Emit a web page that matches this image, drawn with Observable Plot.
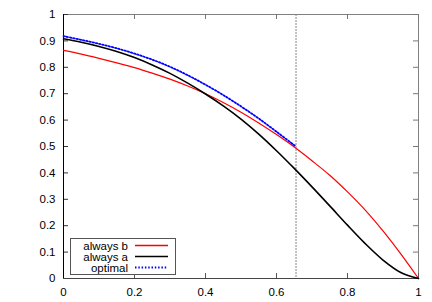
<!DOCTYPE html>
<html>
<head>
<meta charset="utf-8">
<script src="https://cdn.jsdelivr.net/npm/d3@7"></script>
<script src="https://cdn.jsdelivr.net/npm/@observablehq/plot@0.6"></script>
<style>
  html, body { margin: 0; padding: 0; background: #fff; }
  #chart svg { font-family: "Liberation Sans", Arial, sans-serif; }
</style>
</head>
<body>
<div id="chart"></div>
<script>
// ---- data ----
const xs = [0, 0.05, 0.1, 0.15, 0.2, 0.25, 0.3, 0.35, 0.4, 0.45, 0.5, 0.55, 0.6, 0.65, 0.7, 0.75, 0.8, 0.85, 0.9, 0.95, 1];
const alwaysB = [0.864, 0.850, 0.834, 0.817, 0.799, 0.778, 0.755, 0.729, 0.700, 0.667, 0.630, 0.589, 0.545, 0.498, 0.446, 0.391, 0.328, 0.259, 0.180, 0.093, 0];
const alwaysA = [0.908, 0.895, 0.879, 0.860, 0.837, 0.809, 0.777, 0.740, 0.699, 0.654, 0.604, 0.547, 0.484, 0.417, 0.347, 0.275, 0.202, 0.132, 0.070, 0.023, 0];
const optX = [0, 0.05, 0.1, 0.15, 0.2, 0.25, 0.3, 0.35, 0.4, 0.45, 0.5, 0.55, 0.6, 0.65, 0.655];
const optimal = [0.918, 0.904, 0.889, 0.872, 0.852, 0.829, 0.802, 0.770, 0.734, 0.695, 0.652, 0.606, 0.556, 0.505, 0.500];
const threshold = [0.655];
const xTicks = [0, 0.2, 0.4, 0.6, 0.8, 1];
const yTicks = [0, 0.1, 0.2, 0.3, 0.4, 0.5, 0.6, 0.7, 0.8, 0.9, 1];
const legendItems = [
  {label: "always b", color: "#ff0000", dash: null, width: 1.3},
  {label: "always a", color: "#000000", dash: null, width: 1.6},
  {label: "optimal", color: "#0000ff", dash: "1.5,1.8", width: 1.8}
];

const rowsB = xs.map((x, i) => ({x, y: alwaysB[i]}));
const rowsA = xs.map((x, i) => ({x, y: alwaysA[i]}));
const rowsO = optX.map((x, i) => ({x, y: optimal[i]}));

const W = 432, H = 302;
const mL = 63, mR = 14, mT = 14, mB = 24;
const innerH = H - mT - mB, innerW = W - mL - mR;
const T = 5; // tick length px

const chart = Plot.plot({
  width: W, height: H,
  marginLeft: mL, marginRight: mR, marginTop: mT, marginBottom: mB,
  style: {fontSize: "11.5px", fontFamily: "'Liberation Sans', Arial, sans-serif", color: "#000", background: "#fff"},
  x: {domain: [0, 1]},
  y: {domain: [0, 1]},
  marks: [
    Plot.frame({stroke: "#808080"}),
    // inward ticks
    Plot.tickX(xTicks, {x: d => d, insetTop: innerH - T, stroke: "#555"}),
    Plot.tickX(xTicks, {x: d => d, insetBottom: innerH - T, stroke: "#777"}),
    Plot.tickY(yTicks, {y: d => d, insetRight: innerW - T, stroke: "#333"}),
    Plot.tickY(yTicks, {y: d => d, insetLeft: innerW - T, stroke: "#777"}),
    Plot.ruleX([0], {stroke: "#000"}),
    Plot.ruleY([0], {stroke: "#444"}),
    Plot.axisX({ticks: xTicks, tickSize: 0, tickPadding: 9, tickFormat: d => String(d), label: null}),
    Plot.axisY({ticks: yTicks, tickSize: 0, tickPadding: 8, tickFormat: d => String(d), label: null}),
    Plot.ruleX(threshold, {stroke: "#888", strokeDasharray: "2,1", strokeWidth: 1}),
    Plot.line(rowsB, {x: "x", y: "y", stroke: "#ff0000", strokeWidth: 1.2, curve: "catmull-rom"}),
    Plot.line(rowsA, {x: "x", y: "y", stroke: "#000", strokeWidth: 1.6, curve: "catmull-rom"}),
    Plot.line(rowsO, {x: "x", y: "y", stroke: "#0000ff", strokeWidth: 1.8, strokeDasharray: "1.5,1.8", curve: "catmull-rom"})
  ]
});
document.getElementById("chart").appendChild(chart);

// legend inside the plot (bottom-left), as in the reference
const svg = d3.select(chart);
const g = svg.append("g").attr("font-size", 11.5).attr("font-family", "'Liberation Sans', Arial, sans-serif");
const lx = 70, ly = 238, lw = 105, lh = 36;
g.append("rect").attr("x", lx + 0.5).attr("y", ly + 0.5).attr("width", lw).attr("height", lh)
  .attr("fill", "#fff").attr("stroke", "#555");
legendItems.forEach((d, i) => {
  const cy = Math.round(ly + 7 + i * 11.2) + 0.5;
  g.append("text").attr("x", 128).attr("y", cy).attr("dy", "0.35em").attr("text-anchor", "end").attr("fill", "#000").text(d.label);
  const ln = g.append("line").attr("x1", 135).attr("x2", 168).attr("y1", cy).attr("y2", cy)
    .style("stroke", d.color).style("stroke-width", d.width);
  if (d.dash) ln.style("stroke-dasharray", d.dash);
});
</script>
</body>
</html>
